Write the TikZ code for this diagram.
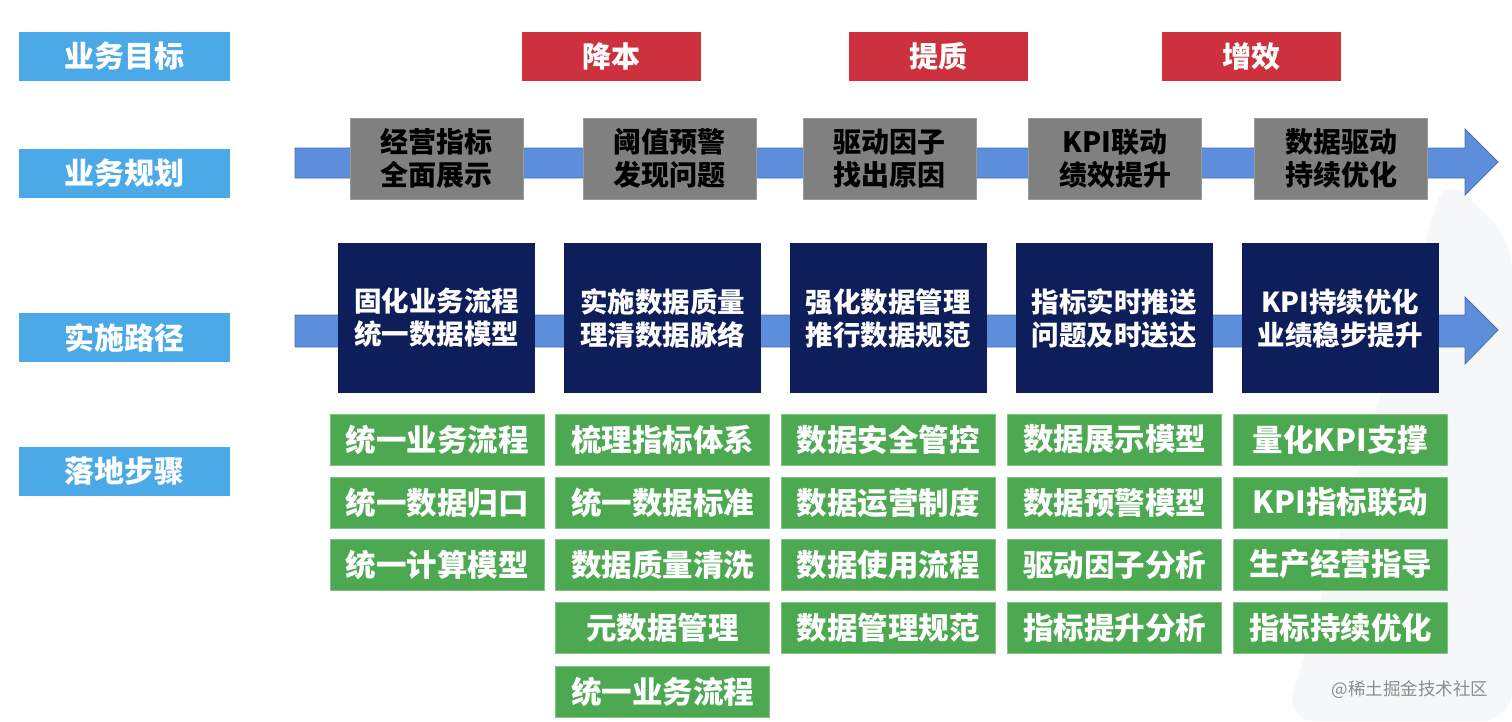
\documentclass[tikz,border=0pt]{standalone}
\usepackage{fontspec}
\setmainfont{Noto Sans CJK SC}
\newfontfamily\cjklight{Noto Sans CJK SC}
\begin{document}
\begin{tikzpicture}[x=1pt,y=-1pt,
  lbl/.style={fill=labelblue,text=white,minimum width=211pt,minimum height=49pt,inner sep=0pt,font=\fontsize{30}{36}\selectfont\bfseries},
  goal/.style={fill=goalred,text=white,minimum width=179pt,minimum height=49pt,inner sep=0pt,font=\fontsize{29}{35}\selectfont\bfseries},
  plan/.style={fill=plangray,draw=plangray!80!white,line width=1pt,text=black,minimum width=173pt,minimum height=81pt,inner sep=0pt,align=center,font=\fontsize{28}{33}\selectfont\bfseries},
  path/.style={fill=navy,text=white,minimum width=197pt,minimum height=150pt,inner sep=0pt,align=center,font=\fontsize{27.5}{33}\selectfont\bfseries},
  stepbox/.style={fill=stepgreen,draw=stepgreen!70!white,line width=1pt,text=white,minimum width=214pt,minimum height=51pt,inner sep=0pt,font=\fontsize{30.5}{36}\selectfont\bfseries},
  flow/.style={fill=flowblue,draw=flowblue!80!black,line width=0.8pt}
]
\definecolor{labelblue}{HTML}{4BA9E8}
\definecolor{goalred}{HTML}{CC313D}
\definecolor{plangray}{HTML}{808080}
\definecolor{navy}{HTML}{0E1E5A}
\definecolor{stepgreen}{HTML}{4CA851}
\definecolor{flowblue}{HTML}{5D8EDB}
\definecolor{bgshade}{HTML}{F6F7F8}
\useasboundingbox (0,0) rectangle (1512,721);
\fill[white] (0,0) rectangle (1512,721);
% faint background shape
\fill[bgshade, rounded corners=30pt] (1445,175) -- (1512,240) -- (1512,721) -- (1285,721) -- cycle;

% row labels
\node[lbl] (l1) at (124.5,56.5) {业务目标};
\node[lbl] (l2) at (124.5,173.5) {业务规划};
\node[lbl] (l3) at (124.5,337.5) {实施路径};
\node[lbl] (l4) at (124.5,471.5) {落地步骤};

% goals
\node[goal] (g1) at (611.5,56.5) {降本};
\node[goal] (g2) at (938.5,56.5) {提质};
\node[goal] (g3) at (1251.5,56.5) {增效};

% upper flow arrow
\coordinate (a1s) at (295,163);
\coordinate (a1t) at (1498,162);
\draw[flow] (295,148) -- (1465,148) -- (1465,129) -- (a1t) -- (1465,195) -- (1465,178) -- (295,178) -- cycle;

% lower flow arrow
\coordinate (a2s) at (295,331);
\coordinate (a2t) at (1498,330);
\draw[flow] (295,315) -- (1465,315) -- (1465,297) -- (a2t) -- (1465,364) -- (1465,347) -- (295,347) -- cycle;

% plan boxes
\node[plan] (p1) at (436.5,158.5) {经营指标\\全面展示};
\node[plan] (p2) at (669.5,158.5) {阈值预警\\发现问题};
\node[plan] (p3) at (889.5,158.5) {驱动因子\\找出原因};
\node[plan] (p4) at (1115,158.5) {KPI联动\\绩效提升};
\node[plan] (p5) at (1341,158.5) {数据驱动\\持续优化};

% path boxes
\node[path] (q1) at (436.5,318) {固化业务流程\\统一数据模型};
\node[path] (q2) at (662.5,318) {实施数据质量\\理清数据脉络};
\node[path] (q3) at (888,318) {强化数据管理\\推行数据规范};
\node[path] (q4) at (1114,318) {指标实时推送\\问题及时送达};
\node[path] (q5) at (1340,318) {KPI持续优化\\业绩稳步提升};

% steps col 1
\node[stepbox] (s11) at (437,439.5) {统一业务流程};
\node[stepbox] (s12) at (437,502.5) {统一数据归口};
\node[stepbox] (s13) at (437,564.5) {统一计算模型};
% col 2
\node[stepbox] (s21) at (662.5,439.5) {梳理指标体系};
\node[stepbox] (s22) at (662.5,502.5) {统一数据标准};
\node[stepbox] (s23) at (662.5,564.5) {数据质量清洗};
\node[stepbox] (s24) at (662.5,627.5) {元数据管理};
\node[stepbox] (s25) at (662.5,692) {统一业务流程};
% col 3
\node[stepbox] (s31) at (888,439.5) {数据安全管控};
\node[stepbox] (s32) at (888,502.5) {数据运营制度};
\node[stepbox] (s33) at (888,564.5) {数据使用流程};
\node[stepbox] (s34) at (888,627.5) {数据管理规范};
% col 4
\node[stepbox] (s41) at (1114.5,439.5) {数据展示模型};
\node[stepbox] (s42) at (1114.5,502.5) {数据预警模型};
\node[stepbox] (s43) at (1114.5,564.5) {驱动因子分析};
\node[stepbox] (s44) at (1114.5,627.5) {指标提升分析};
% col 5
\node[stepbox] (s51) at (1340.5,439.5) {量化KPI支撑};
\node[stepbox] (s52) at (1340.5,502.5) {KPI指标联动};
\node[stepbox] (s53) at (1340.5,564.5) {生产经营指导};
\node[stepbox] (s54) at (1340.5,627.5) {指标持续优化};

% watermark
\node[text=black!45,font=\cjklight\fontsize{17.5}{20}\selectfont,inner sep=0pt] (wm) at (1410,690) {@稀土掘金技术社区};
\end{tikzpicture}
\end{document}
